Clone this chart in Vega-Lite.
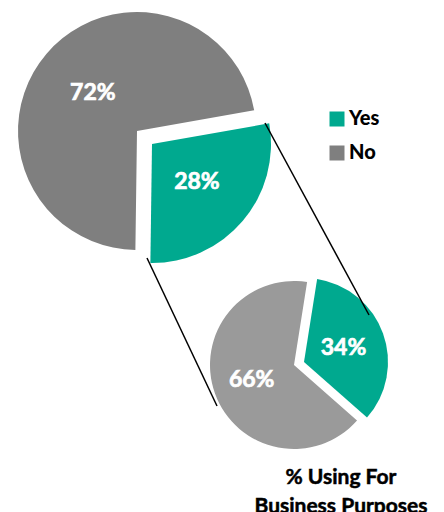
{
  "$schema": "https://vega.github.io/schema/vega-lite/v6.json",
  "width": 444,
  "height": 512,
  "autosize": "none",
  "padding": 0,
  "background": "white",
  "config": {"view": {"stroke": null}, "font": "Lato"},
  "data": {"values": [
    {"pie": "All", "answer": "Yes", "share": 0.28},
    {"pie": "All", "answer": "No", "share": 0.72},
    {"pie": "Business", "answer": "Yes", "share": 0.34},
    {"pie": "Business", "answer": "No", "share": 0.66}
  ]},
  "encoding": {
    "x": {"field": "pie", "type": "nominal", "scale": {"type": "point", "padding": 0, "domain": ["All", "Business"], "range": [137, 294]}, "axis": null},
    "y": {"field": "pie", "type": "nominal", "scale": {"type": "point", "padding": 0, "domain": ["All", "Business"], "range": [131, 365]}, "axis": null}
  },
  "layer": [
    {
      "transform": [{"filter": "datum.pie === 'All'"}],
      "encoding": {
        "theta": {"field": "share", "type": "quantitative", "stack": true, "scale": {"range": [1.396, 7.679]}},
        "order": {"field": "answer", "sort": "descending"}
      },
      "layer": [
        {
          "mark": {"type": "arc", "radius": 119},
          "encoding": {
            "color": {"field": "answer", "type": "nominal",
              "scale": {"domain": ["Yes", "No"], "range": ["#00A98F", "#7F7F7F"]},
              "legend": {"orient": "none", "legendX": 327, "legendY": 109, "title": null, "padding": 0,
                "symbolType": "square", "symbolSize": 225, "symbolOpacity": 1, "symbolStrokeWidth": 0,
                "labelFont": "Lato", "labelFontWeight": 900, "labelFontSize": 20, "labelColor": "black",
                "labelOffset": 2, "rowPadding": 14}},
            "opacity": {"condition": {"test": "datum.answer === 'Yes'", "value": 0}, "value": 1}
          }
        },
        {
          "mark": {"type": "arc", "radius": 119, "xOffset": 15, "yOffset": 13, "color": "#00A98F"},
          "encoding": {"opacity": {"condition": {"test": "datum.answer === 'No'", "value": 0}, "value": 1}}
        },
        {
          "mark": {"type": "text", "radius": 58, "font": "Lato", "fontWeight": "bold", "fontSize": 23, "color": "white", "stroke": "white", "strokeWidth": 0.7, "align": "center", "baseline": "middle"},
          "encoding": {
            "text": {"field": "share", "type": "quantitative", "format": ".0%"},
            "opacity": {"condition": {"test": "datum.answer === 'Yes'", "value": 0}, "value": 1}
          }
        },
        {
          "mark": {"type": "text", "radius": 59, "xOffset": 15, "yOffset": 13, "font": "Lato", "fontWeight": "bold", "fontSize": 23, "color": "white", "stroke": "white", "strokeWidth": 0.7, "align": "center", "baseline": "middle"},
          "encoding": {
            "text": {"field": "share", "type": "quantitative", "format": ".0%"},
            "opacity": {"condition": {"test": "datum.answer === 'No'", "value": 0}, "value": 1}
          }
        }
      ]
    },
    {
      "transform": [{"filter": "datum.pie === 'Business'"}],
      "encoding": {
        "theta": {"field": "share", "type": "quantitative", "stack": true, "scale": {"range": [0.157, 6.440]}},
        "order": {"field": "answer", "sort": "descending"}
      },
      "layer": [
        {
          "mark": {"type": "arc", "radius": 84, "color": "#9A9A9A"},
          "encoding": {"opacity": {"condition": {"test": "datum.answer === 'Yes'", "value": 0}, "value": 1}}
        },
        {
          "mark": {"type": "arc", "radius": 84, "xOffset": 10, "yOffset": -3, "color": "#00A98F"},
          "encoding": {"opacity": {"condition": {"test": "datum.answer === 'No'", "value": 0}, "value": 1}}
        },
        {
          "mark": {"type": "text", "radius": 45, "font": "Lato", "fontWeight": "bold", "fontSize": 23, "color": "white", "stroke": "white", "strokeWidth": 0.7, "align": "center", "baseline": "middle"},
          "encoding": {
            "text": {"field": "share", "type": "quantitative", "format": ".0%"},
            "opacity": {"condition": {"test": "datum.answer === 'Yes'", "value": 0}, "value": 1}
          }
        },
        {
          "mark": {"type": "text", "radius": 42, "xOffset": 10, "yOffset": -3, "font": "Lato", "fontWeight": "bold", "fontSize": 23, "color": "white", "stroke": "white", "strokeWidth": 0.7, "align": "center", "baseline": "middle"},
          "encoding": {
            "text": {"field": "share", "type": "quantitative", "format": ".0%"},
            "opacity": {"condition": {"test": "datum.answer === 'No'", "value": 0}, "value": 1}
          }
        }
      ]
    },
    {
      "data": {"values": [{"from": "All", "to": "Business", "edge": "upper"}]},
      "mark": {"type": "rule", "xOffset": 128, "yOffset": -8, "x2Offset": 75, "y2Offset": -50, "color": "black", "strokeWidth": 1.5},
      "encoding": {
        "x": {"field": "from", "type": "nominal"},
        "y": {"field": "from", "type": "nominal"},
        "x2": {"field": "to"},
        "y2": {"field": "to"}
      }
    },
    {
      "data": {"values": [{"from": "All", "to": "Business", "edge": "lower"}]},
      "mark": {"type": "rule", "xOffset": 10, "yOffset": 127, "x2Offset": -77, "y2Offset": 41, "color": "black", "strokeWidth": 1.5},
      "encoding": {
        "x": {"field": "from", "type": "nominal"},
        "y": {"field": "from", "type": "nominal"},
        "x2": {"field": "to"},
        "y2": {"field": "to"}
      }
    },
    {
      "data": {"values": [{"pie": "Business", "caption": "% Using For\nBusiness Purposes"}]},
      "mark": {"type": "text", "lineBreak": "\n", "dx": 47, "dy": 119, "align": "center", "baseline": "alphabetic", "font": "Lato", "fontWeight": "bold", "fontSize": 21, "lineHeight": 29, "color": "black", "stroke": "black", "strokeWidth": 0.5},
      "encoding": {"text": {"field": "caption", "type": "nominal"}}
    }
  ],
  "resolve": {"scale": {"theta": "independent"}}
}
